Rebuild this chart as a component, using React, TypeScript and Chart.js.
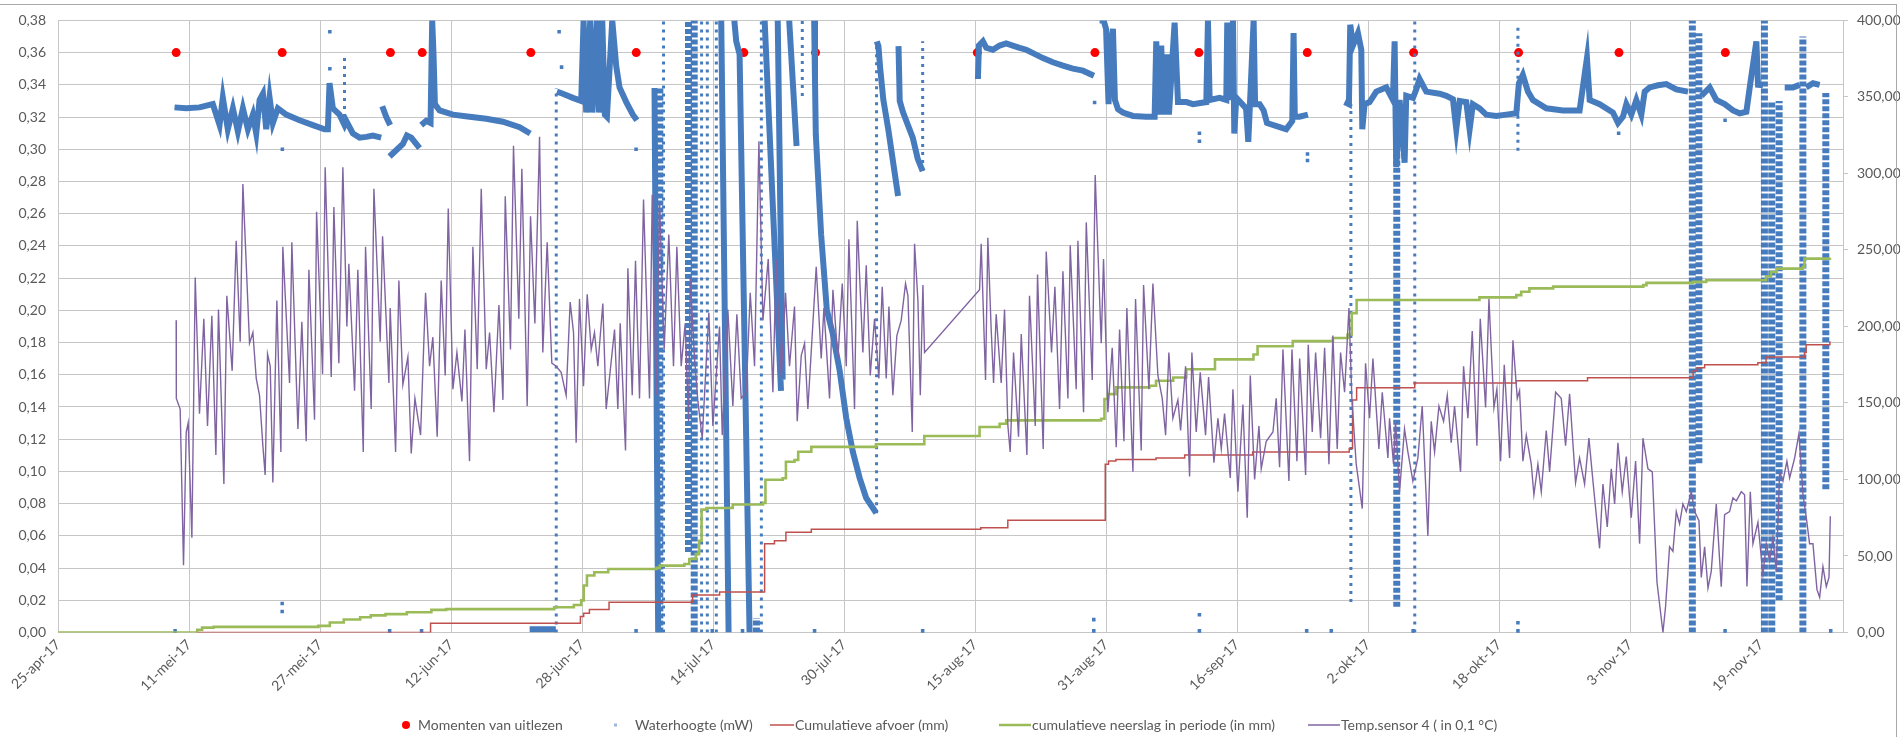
import React, { useEffect, useRef } from 'react';
import { Chart, registerables } from 'chart.js';
Chart.register(...registerables);

// x = days since 25-apr-2017
const START_UTC = Date.UTC(2017, 3, 25);
const MONTHS_NL = ['jan', 'feb', 'mrt', 'apr', 'mei', 'jun', 'jul', 'aug', 'sep', 'okt', 'nov', 'dec'];
const X_MIN = 0;
const X_MAX = 218;
const X_STEP = 16;

const seriesNames = [
  'Momenten van uitlezen',
  'Waterhoogte (mW)',
  'Cumulatieve afvoer (mm)',
  'cumulatieve neerslag in periode (in mm)',
  'Temp.sensor 4 ( in 0,1 °C)',
];

// Momenten van uitlezen (left axis)
const readingDays = [14.43, 27.38, 40.6, 44.48, 57.75, 70.62, 83.76, 92.52, 112.27, 126.64, 139.34, 152.57, 165.56, 178.38, 190.64, 203.63];
const readingLevels = [0.36, 0.36, 0.36, 0.36, 0.36, 0.36, 0.36, 0.36, 0.36, 0.36, 0.36, 0.36, 0.36, 0.36, 0.36, 0.36];

// Waterhoogte (m) main band, null = gap
const waterLevel: [number, number | null][] = [
  [14.23, .326], [15.65, .3254], [17.28, .326], [18.91, .328], [19.73, .315], [20.13, .332], [20.74, .3124], [21.36, .3254],
  [21.97, .311], [22.58, .3254], [23.19, .3124], [23.8, .3215], [24.21, .3098], [24.62, .3306], [25.03, .3345], [25.43, .3124],
  [25.84, .332], [26.24, .3163], [26.85, .3254], [27.87, .3215], [29.5, .318], [31.13, .315], [32.56, .3124], [32.96, .3124],
  [33.16, .341], [33.57, .3254], [34.38, .3215], [34.99, .315], [35.2, .3176], [36.01, .3098], [36.83, .3072], [37.64, .3077],
  [38.45, .3085], [39.47, .3072], [39.5, null],
  [39.6, .3267], [40.08, .3202], [40.57, .315], [40.6, null],
  [40.49, .2955], [41.3, .2994], [42.12, .3033], [42.61, .3085], [43.14, .3072], [43.75, .3033], [44.16, .3007], [44.2, null],
  [44.36, .315], [44.97, .3176], [45.5, .3163], [45.7, .38], [45.86, .3592], [46.03, .328], [46.6, .3241], [48.23, .3215],
  [50.26, .3202], [52.3, .3189], [54.33, .3171], [56.37, .3137], [57.67, .3098], [57.7, null],
  [57.6, .002], [60.8, .002], [60.85, null],
  [60.93, .3358], [61.66, .3345], [62.88, .3319], [63.9, .33], [64.19, .38], [64.51, .3228], [65.0, .38], [65.25, .3228],
  [65.82, .38], [66.06, .3228], [66.47, .38], [66.79, .3215], [67.04, .3202], [67.69, .38], [68.18, .3514], [68.58, .3384],
  [69.4, .3293], [70.21, .3215], [70.7, .318], [70.8, null],
  [72.85, .338], [73.3, 0], [73.4, null],
  [81.0, .38], [81.9, 0], [82.0, null],
  [82.6, .38], [82.83, .367], [83.24, .359], [84.46, 0], [84.5, null],
  [86.3, .38], [88.3, .15], [88.4, null],
  [87.9, .38], [88.5, .157], [88.6, null],
  [89.3, .38], [90.2, .302], [90.3, null],
  [92.35, .38], [92.45, .343], [92.55, .309], [93.2, .247], [93.9, .2], [94.6, .186], [95.45, .163], [96.27, .133],
  [97.08, .112], [97.9, .096], [98.7, .0835], [99.93, .0742], [99.95, null],
  [100.0, .367], [100.2, .364], [100.4, .351], [100.8, .3306], [101.4, .3125], [102.0, .2916], [102.6, .271], [102.62, null],
  [102.65, .364], [102.8, .33], [103.2, .323], [103.8, .315], [104.4, .307], [105.0, .294], [105.6, .2865], [105.7, null],
  [112.35, .3436], [112.47, .3644], [112.96, .367], [113.37, .363], [114.18, .3618], [115, .3644], [115.8, .3657], [116.6, .3644],
  [117.44, .363], [118.25, .3618], [119.07, .3597], [120.29, .3566], [121.51, .354], [122.73, .3519], [123.95, .3501],
  [125.17, .3488], [126.52, .3457], [126.6, null],
  [127.21, .38], [127.7, .38], [128.0, .3747], [128.3, .328], [128.55, .3644], [128.84, .3747], [129.08, .3306], [129.45, .3249],
  [130.06, .3228], [131.28, .3207], [132.91, .3202], [133.93, .3202], [134.13, .367], [134.4, .3215], [134.74, .3644],
  [135.0, .3215], [135.44, .359], [135.68, .3215], [136.37, .3786], [136.78, .3293], [137.8, .3293], [138.61, .328],
  [140.24, .3293], [140.44, .38], [140.65, .3306], [141.87, .3319], [142.68, .3306], [142.8, .3786], [143.0, .3306],
  [143.5, .38], [143.66, .3098], [143.9, .332], [145.1, .3254], [145.37, .3046], [145.55, .3254], [146.02, .38], [146.2, .328],
  [146.75, .328], [147.24, .3241], [147.65, .3163], [149.2, .3137], [150.0, .3124], [150.74, .3176], [150.9, .3721],
  [151.05, .3202], [151.63, .3202], [152.65, .3215], [152.7, null],
  [157.13, .3293], [157.66, .328], [157.82, .3773], [158.15, .3644], [158.76, .3721], [159.17, .3618], [159.29, .3124],
  [159.57, .328], [160.18, .3293], [161.0, .3358], [162.22, .3384], [163.03, .3306], [163.24, .367], [163.44, .289],
  [163.85, .3306], [164.46, .2916], [164.66, .3332], [165.48, .3319], [165.88, .3371], [166.29, .3436], [167.1, .3358],
  [168.73, .3345], [169.55, .3332], [170.36, .3311], [170.77, .3124], [171.18, .33], [171.99, .3293], [172.4, .3124],
  [172.8, .328], [173.62, .3254], [174.43, .3215], [175.66, .3207], [176.88, .3215], [178.1, .3223], [178.42, .341],
  [178.9, .3462], [179.52, .3358], [180.13, .3306], [181.76, .3254], [183.8, .3241], [185.83, .3241], [186.73, .3566],
  [187.06, .3306], [188.28, .328], [189.9, .3228], [190.52, .3163], [191.13, .3202], [191.54, .328], [192.15, .3215],
  [192.76, .3306], [193.37, .3215], [193.78, .3358], [194.39, .3384], [195.41, .3397], [196.42, .3405], [197.64, .3371],
  [199.07, .3358], [199.1, null],
  [200.7, .3332], [201.72, .3384], [202.53, .3306], [203.55, .328], [204.57, .3241], [205.38, .3223], [206.2, .3233],
  [206.68, .341], [207.42, .367], [207.62, .34], [208.23, .3397], [208.3, null],
  [210.88, .3384], [211.9, .3384], [212.71, .34], [212.8, null],
  [213.5, .3384], [214.34, .341], [215.15, .34],
];

// dense columns of Waterhoogte dots: [day, low, high]
const waterDenseColumns: [number, number, number][] = [
  [73.5, 0, .338], [77.0, .05, .38], [77.7, 0, .38], [85.3, 0, .009], [163.5, .016, .31], [199.6, 0, .38],
  [200.4, .105, .372], [208.4, 0, .38], [209.3, 0, .33], [210.2, .02, .33], [213.1, 0, .37], [215.9, .089, .335],
];

// sparse dotted columns of Waterhoogte dots: [day, low, high]
const waterSparseColumns: [number, number, number][] = [
  [34.99, .315, .358], [60.85, 0, .338], [73.95, 0, .38], [78.6, 0, .38], [79.3, 0, .38], [80.4, 0, .38],
  [85.9, 0, .38], [90.9, .333, .38], [99.97, .074, .367], [105.6, .2865, .367], [157.9, .019, .328],
  [165.7, 0, .38], [178.3, .299, .377],
];

// isolated Waterhoogte dots
const waterStray: [number, number][] = [
  [14.3, .001], [27.38, .013], [27.38, .018], [27.4, .30], [33.2, .373], [33.2, .35], [40.5, .001], [44.4, .001],
  [61.2, .373], [61.5, .351], [70.6, .30], [70.6, .001], [79.9, .001], [83.6, .001], [92.4, .001], [105.6, .001],
  [112.4, .345], [126.5, .001], [126.5, .008], [126.6, .329], [139.4, .001], [139.4, .011], [139.4, .31], [139.4, .305],
  [152.5, .001], [152.6, .297], [152.6, .293], [155.5, .001], [165.5, .001], [178.3, .001], [178.3, .006],
  [190.6, .31], [203.6, .001], [203.6, .318], [216.5, .001],
];

// Cumulatieve afvoer (mm), step changes [day, value] (right axis)
const dischargeSteps: [number, number][] = [
  [16.9, 0], [45.5, 6], [63.8, 10.5], [64.2, 12.5], [64.9, 15], [67.3, 19.8], [77.5, 24.5], [80.8, 26.5], [86.3, 58],
  [87.5, 60], [88.9, 65.5], [92, 67.5], [112.7, 68.5], [116, 73.3], [127.9, 110], [128.3, 112], [129.2, 113],
  [134.1, 114], [137.6, 116], [145.9, 118], [157.7, 120.3], [158.1, 152], [158.6, 160], [165.7, 163], [178.1, 164.5],
  [186.8, 166.5], [199.7, 171], [200.2, 173], [201.1, 175], [207.6, 176.3], [208.6, 180], [213.3, 183], [213.5, 188],
  [216.4, 190.4],
];

// cumulatieve neerslag in periode (mm), step changes [day, value] (right axis)
const rainSteps: [number, number][] = [
  [0, 0], [16.6, 0], [17.0, 1.7], [17.6, 3.2], [19.0, 3.7], [31.8, 4.3], [33.2, 6.5], [34.9, 8.5], [36.9, 10],
  [38.2, 11.2], [40.0, 12], [42.6, 13.2], [45.6, 14.8], [47.4, 15.3], [60.6, 16.5], [63.0, 18], [63.9, 21],
  [64.2, 30.7], [64.6, 37.2], [65.5, 39.4], [67.2, 41.5], [73.1, 42.2], [73.5, 43.7], [76.5, 44.8], [77.1, 48],
  [77.9, 51.2], [78.3, 60], [78.6, 80.3], [79.2, 81.4], [82.4, 83.6], [86.1, 84.7], [86.4, 99.8], [88.5, 100.8],
  [88.9, 111.6], [89.95, 112.7], [90.4, 118.1], [92.0, 121.3], [99.9, 123], [105.8, 128.4], [112.55, 134.3],
  [115.0, 136.4], [115.8, 138.6], [127.4, 139.7], [127.8, 152.6], [128.2, 155.8], [129.2, 160.2], [133.3, 161.2],
  [134.1, 164.5], [136.2, 166.6], [137.8, 172], [141.3, 178.5], [146.0, 181.7], [146.5, 187.1], [150.8, 190.4],
  [155.7, 192.5], [157.5, 194.7], [158.0, 208.7], [158.6, 217.3], [173.6, 219], [178.1, 220.5], [178.7, 222.7],
  [179.7, 224.9], [182.6, 226], [193.6, 227], [194.0, 228.5], [199.7, 229.1], [201.3, 230.2], [208.6, 232.8],
  [209.2, 235.6], [209.9, 237.8], [213.1, 238.9], [213.3, 244.3], [216.4, 244.9],
];

// Temp.sensor 4 (0,1 °C) [day, value] (right axis)
const tempSensor: [number, number][] = [
  [14.43, 204], [14.45, 153], [14.92, 146], [15.33, 44], [15.66, 131], [15.9, 137], [16.35, 62], [16.76, 232], [17.28, 143],
  [17.81, 205], [18.26, 135], [18.79, 207], [19.28, 116], [19.6, 211], [20.26, 97], [20.62, 220], [21.27, 171], [21.76, 256],
  [22.25, 190], [22.58, 293], [23.39, 189], [23.8, 196], [24.21, 166], [24.61, 155], [25.02, 122], [25.3, 103], [25.59, 182],
  [25.92, 174], [26.24, 98], [26.73, 217], [27.22, 118], [27.46, 252], [28.28, 163], [28.56, 255], [29.3, 133], [29.78, 203],
  [30.31, 125], [30.64, 237], [31.33, 139], [31.58, 275], [32.31, 169], [32.63, 304], [33.37, 167], [33.69, 278], [34.3, 176],
  [34.79, 304], [35.28, 200], [35.52, 241], [36.22, 158], [36.62, 237], [37.28, 118], [37.56, 252], [38.25, 146], [38.58, 290],
  [39.35, 190], [39.64, 259], [40.41, 163], [40.57, 212], [41.23, 118], [41.63, 230], [42.12, 162], [42.73, 180], [43.14, 117],
  [43.59, 153], [44.28, 129], [44.89, 222], [45.38, 174], [45.78, 193], [46.31, 128], [46.8, 230], [47.29, 168], [47.66, 277],
  [48.23, 159], [48.72, 183], [49.33, 151], [49.7, 198], [50.26, 112], [50.67, 252], [51.2, 172], [51.69, 290], [52.3, 172],
  [52.71, 196], [53.24, 144], [53.85, 214], [54.34, 152], [54.62, 285],
  [55.26, 185], [55.63, 318], [56.28, 205], [56.65, 303], [57.3, 148], [57.71, 272], [58.24, 202], [58.81, 324], [59.21, 183],
  [59.74, 255], [60.31, 176], [60.84, 174], [61.45, 170], [62.06, 155], [62.55, 216], [62.96, 196], [63.28, 124], [63.69, 218],
  [64.18, 161], [64.63, 221], [65.12, 185], [65.52, 196], [65.93, 174], [66.54, 215], [66.95, 146], [67.97, 198], [68.37, 146],
  [68.66, 202], [69.31, 119], [69.6, 238], [70.13, 155], [70.53, 243], [71.02, 153], [71.51, 283], [72.24, 153], [72.57, 286],
  [73.06, 155], [73.46, 282], [74.03, 185], [74.6, 260], [75.17, 174], [75.58, 252], [76.11, 174], [76.6, 202], [77.01, 138],
  [77.21, 232], [77.74, 179], [78.15, 151], [78.68, 127], [79.49, 209], [79.98, 135], [80.79, 200], [81.12, 129], [81.81, 211],
  [82.42, 148], [82.91, 208], [83.44, 153], [84.05, 157], [84.54, 222], [85.07, 174], [85.6, 321], [86.09, 204], [86.74, 244],
  [87.31, 157], [87.71, 244], [88.33, 166], [88.85, 222], [89.34, 174], [89.95, 213], [90.28, 138], [90.77, 181], [91.18, 189],
  [91.58, 146], [92.6, 239], [93.21, 179], [93.54, 212], [94.23, 153], [94.64, 224], [95.25, 179], [95.78, 228], [96.27, 174],
  [96.59, 257], [97.28, 146], [97.61, 269], [98.3, 183], [98.71, 240], [99.2, 168], [99.72, 205], [100.25, 166], [100.66, 226],
  [101.15, 166], [101.48, 213], [101.96, 155], [102.45, 194], [102.98, 204], [103.51, 228], [103.8, 220], [104.33, 131],
  [104.61, 254], [105.02, 217], [105.31, 155], [105.63, 227], [105.83, 183],
  [112.55, 224], [112.75, 254], [113.28, 165], [113.56, 258], [113.97, 198], [114.26, 163], [114.58, 208], [115.19, 163],
  [115.6, 211], [116.01, 135], [116.29, 118], [116.7, 183], [117.31, 128], [117.64, 195], [118.33, 116], [118.65, 220],
  [119.35, 135], [119.63, 234], [120.32, 120], [120.69, 249], [121.34, 183], [121.75, 226], [122.32, 146], [122.73, 236],
  [123.34, 153], [123.62, 253], [124.35, 159], [124.56, 256], [125.25, 144], [125.58, 268], [126.31, 165], [126.67, 299],
  [127.41, 189], [127.69, 244], [128.22, 144], [128.75, 186], [129.24, 121], [129.65, 198], [130.18, 125], [130.54, 212],
  [131.28, 105], [131.6, 218], [132.29, 119], [132.58, 227], [133.23, 159], [133.72, 228], [134.33, 168], [134.86, 153],
  [135.27, 129], [135.67, 183], [136.16, 140], [136.77, 152], [137.1, 132], [137.71, 174], [138.2, 102], [138.48, 183],
  [139.01, 131], [139.5, 170], [140.15, 129], [140.52, 167], [141.17, 111], [141.66, 140], [142.07, 120], [142.47, 143],
  [143.17, 101], [143.49, 159], [144.1, 92], [144.71, 149], [145.24, 75], [145.61, 168], [146.14, 100], [146.67, 135],
  [146.95, 107], [147.56, 125], [148.38, 131], [148.78, 153], [149.19, 108], [149.6, 185], [150.33, 99], [150.7, 185],
  [151.31, 112], [151.64, 179], [152.37, 103], [152.69, 188], [153.18, 131], [153.59, 183], [154.2, 127], [154.69, 186],
  [155.22, 110], [155.7, 194], [156.23, 120], [156.64, 183], [157.13, 157], [157.66, 212], [158.02, 153], [158.55, 110],
  [159.29, 81], [159.69, 176], [160.18, 140], [160.59, 179], [161.32, 120], [161.73, 157], [162.42, 114],
  [162.62, 140], [163.11, 110], [163.35, 138], [163.84, 92], [164.45, 133], [164.86, 118], [165.47, 99], [166.08, 114],
  [166.61, 148], [167.3, 63], [167.71, 138], [168.12, 118], [168.65, 148], [169.22, 138], [169.67, 155], [170.15, 124],
  [170.56, 148], [171.29, 105], [171.66, 174], [172.19, 140], [172.72, 197], [173.29, 122], [173.7, 205], [174.35, 147],
  [174.76, 218], [175.37, 147], [175.73, 159], [176.18, 112], [176.63, 175], [177.28, 114], [177.69, 191], [178.22, 153],
  [178.5, 158], [178.91, 112], [179.32, 129], [179.93, 110], [180.25, 90], [180.74, 110], [181.15, 92], [181.76, 132],
  [182.17, 105], [182.9, 157], [183.59, 153], [184.12, 122], [184.61, 156], [185.34, 98], [185.83, 114], [186.44, 97],
  [186.97, 127], [187.46, 99], [188.27, 55], [188.68, 97], [189.21, 69], [189.7, 107], [190.11, 84], [190.51, 124],
  [191.04, 92], [191.53, 115], [192.14, 75], [192.67, 112], [193.16, 58], [193.57, 127], [194.18, 107], [194.71, 105],
  [195.28, 33], [196.01, 0], [196.33, 17], [196.82, 56], [197.23, 53], [197.64, 79], [198.04, 71], [198.45, 84],
  [198.86, 79], [199.47, 92], [199.88, 79], [200.41, 73], [200.69, 36], [201.1, 56], [201.51, 29], [201.91, 40],
  [202.52, 84], [203.13, 30], [203.54, 77], [204.15, 79], [204.56, 88], [204.97, 86], [205.58, 92], [205.98, 90],
  [206.27, 30], [206.68, 92], [207, 58], [207.61, 72], [208.22, 38], [208.63, 58], [209.04, 47], [209.44, 62],
  [209.85, 40], [210.26, 105], [210.67, 99], [211.15, 112], [211.48, 101], [212.09, 114], [212.62, 130], [213.11, 90],
  [213.52, 75], [213.92, 58], [214.33, 58], [214.82, 28], [215.15, 23], [215.55, 43], [215.96, 30], [216.29, 36],
  [216.45, 76],
];

const C_RED = '#FF0000';
const C_BLUE = '#467CBE';
const C_BROWN = '#C0504D';
const C_GREEN = '#9BBB59';
const C_PURPLE = '#8064A2';
const C_GRID = '#c6c6c6';
const C_TEXT = '#595959';

function fmtDate(v: number): string {
  const d = new Date(START_UTC + Math.round(v) * 86400000);
  return `${d.getUTCDate()}-${MONTHS_NL[d.getUTCMonth()]}-${String(d.getUTCFullYear()).slice(2)}`;
}
const fmt2 = (v: number) => Number(v).toFixed(2).replace('.', ',');

const legendPlugin = {
  id: 'excelFrameLegend',
  afterDraw(chart: any) {
    const ctx = chart.ctx;
    ctx.save();
    ctx.strokeStyle = '#a8a8a8';
    ctx.lineWidth = 1;
    ctx.strokeRect(-1, 4.5, 1897.5, 800);
    const y = 725;
    ctx.font = '14px Lato, "Open Sans", sans-serif';
    ctx.fillStyle = C_TEXT;
    ctx.textBaseline = 'middle';
    ctx.textAlign = 'left';
    ctx.fillStyle = C_RED;
    ctx.beginPath(); ctx.arc(406, y, 4, 0, Math.PI * 2); ctx.fill();
    ctx.fillStyle = C_TEXT; ctx.fillText(seriesNames[0], 418, y);
    ctx.fillStyle = '#9db8dc';
    ctx.fillRect(614, y - 1.5, 3, 3);
    ctx.fillStyle = C_TEXT; ctx.fillText(seriesNames[1], 635, y);
    const lineItem = (c: string, x1: number, x2: number, w: number, t: string, tx: number) => {
      ctx.strokeStyle = c; ctx.lineWidth = w;
      ctx.beginPath(); ctx.moveTo(x1, y); ctx.lineTo(x2, y); ctx.stroke();
      ctx.fillStyle = C_TEXT; ctx.fillText(t, tx, y);
    };
    lineItem(C_BROWN, 770, 794, 1.5, seriesNames[2], 795);
    lineItem(C_GREEN, 999, 1031, 2.5, seriesNames[3], 1032);
    lineItem(C_PURPLE, 1308, 1340, 1.5, seriesNames[4], 1341);
    ctx.restore();
  },
};

export default function App() {
  const ref = useRef<HTMLCanvasElement>(null);
  useEffect(() => {
    Chart.defaults.font.family = 'Lato, "Open Sans", sans-serif';
    const pts = (a: [number, number | null][]) => a.map(([x, y]) => ({ x, y }));
    const cols = (a: [number, number, number][]) =>
      a.flatMap(([x, lo, hi]) => [{ x, y: lo }, { x, y: hi }, { x, y: null }]);
    const chart = new Chart(ref.current as HTMLCanvasElement, {
      type: 'line',
      data: {
        datasets: [
          {
            label: seriesNames[4], data: pts(tempSensor), yAxisID: 'y2',
            borderColor: C_PURPLE, borderWidth: 1.4, pointRadius: 0, tension: 0,
          },
          {
            label: seriesNames[3], data: pts(rainSteps), yAxisID: 'y2', stepped: true,
            borderColor: C_GREEN, borderWidth: 2.6, pointRadius: 0,
          },
          {
            label: seriesNames[2], data: pts(dischargeSteps), yAxisID: 'y2', stepped: true,
            borderColor: C_BROWN, borderWidth: 1.5, pointRadius: 0,
          },
          {
            label: seriesNames[1] + ' sparse', data: cols(waterSparseColumns), yAxisID: 'y',
            borderColor: C_BLUE, borderWidth: 3, borderDash: [3, 5], pointRadius: 0, spanGaps: false, clip: 0,
          },
          {
            label: seriesNames[1] + ' dense', data: cols(waterDenseColumns), yAxisID: 'y',
            borderColor: C_BLUE, borderWidth: 7, borderDash: [5, 2], pointRadius: 0, spanGaps: false, clip: 0,
          },
          {
            label: seriesNames[1] + ' stray', data: pts(waterStray), yAxisID: 'y', showLine: false,
            pointRadius: 2.5, pointStyle: 'rect', pointBackgroundColor: C_BLUE, pointBorderWidth: 0, clip: 5,
          },
          {
            label: seriesNames[1], data: pts(waterLevel), yAxisID: 'y',
            borderColor: C_BLUE, borderWidth: 6, pointRadius: 0, spanGaps: false, clip: 0, tension: 0,
          },
          {
            label: seriesNames[0], data: readingDays.map((x, i) => ({ x, y: readingLevels[i] })), yAxisID: 'y',
            showLine: false, pointRadius: 4.5, pointStyle: 'circle', pointBackgroundColor: C_RED, pointBorderWidth: 0,
          },
        ],
      },
      options: {
        animation: false,
        responsive: true,
        maintainAspectRatio: false,
        layout: { padding: { top: 14, left: 0, right: 0, bottom: 0 } },
        plugins: { legend: { display: false }, tooltip: { enabled: false } },
        scales: {
          x: {
            type: 'linear', min: X_MIN, max: X_MAX,
            afterFit: (s: any) => { s.height = 104.5; },
            ticks: {
              stepSize: X_STEP, includeBounds: false, autoSkip: false, minRotation: 45, maxRotation: 45,
              padding: 4, color: C_TEXT, font: { size: 14 }, callback: (v: any) => fmtDate(Number(v)),
            },
            grid: { color: C_GRID, drawTicks: false },
            border: { color: C_GRID },
          },
          y: {
            position: 'left', min: 0, max: 0.38,
            afterFit: (s: any) => { s.width = 58; },
            ticks: { stepSize: 0.02, padding: 12, color: C_TEXT, font: { size: 14 }, callback: (v: any) => fmt2(v) },
            grid: { color: C_GRID, drawTicks: false },
            border: { color: C_GRID },
          },
          y2: {
            position: 'right', min: 0, max: 400,
            afterFit: (s: any) => { s.width = 57; },
            ticks: { stepSize: 50, padding: 9, color: C_TEXT, font: { size: 14 }, callback: (v: any) => fmt2(v) },
            grid: { drawOnChartArea: false, tickLength: 5, color: C_GRID },
            border: { color: C_GRID },
          },
        },
      } as any,
      plugins: [legendPlugin],
    } as any);
    return () => chart.destroy();
  }, []);
  return (
    <div style={{ position: 'fixed', left: 0, top: 0, width: 1900, height: 737, background: '#ffffff' }}>
      <canvas ref={ref} />
    </div>
  );
}
